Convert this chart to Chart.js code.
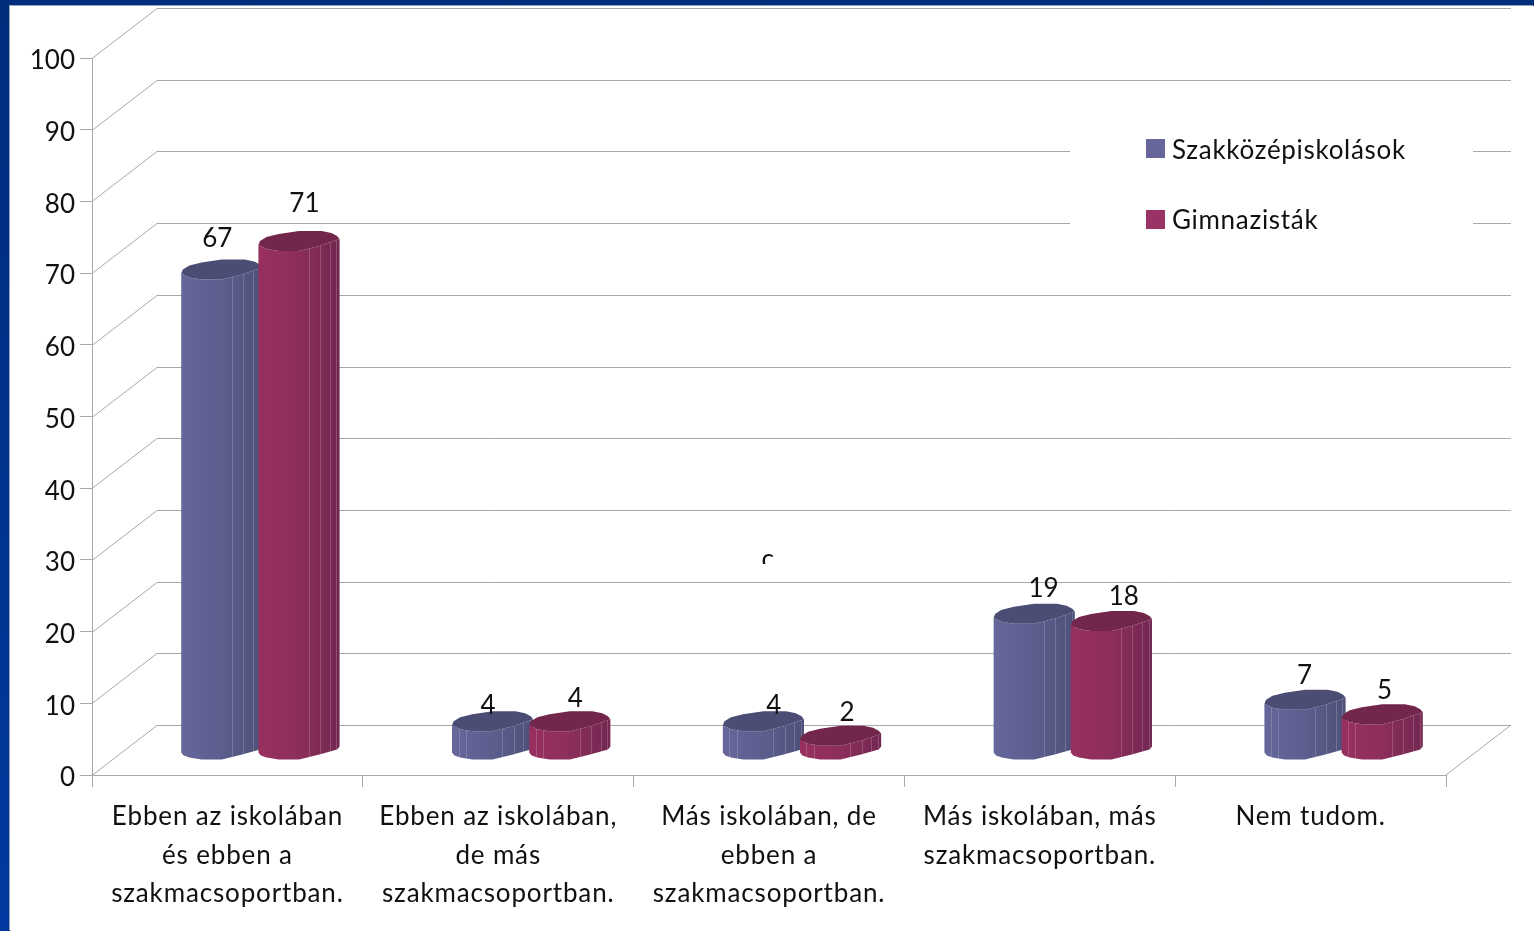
<!DOCTYPE html>
<html>
<head>
<meta charset="utf-8">
<script src="https://cdn.jsdelivr.net/npm/chart.js@4"></script>
<style>
  html, body { margin: 0; height: 100%; overflow: hidden; background: linear-gradient(#002c7c, #003aa0); }
  #panel { position: absolute; left: 10px; top: 6px; right: 0; bottom: 0; background: #fff; box-shadow: -1px -1px 0 #9aa3b5; }
  #wrap { position: absolute; left: 0; top: 0; width: 1534px; height: 931px; }
</style>
</head>
<body>
<div id="panel"></div>
<div id="wrap"><canvas id="theChart"></canvas></div>
<script>
const categories = [
  ['Ebben az iskolában', 'és ebben a', 'szakmacsoportban.'],
  ['Ebben az iskolában,', 'de más', 'szakmacsoportban.'],
  ['Más iskolában, de', 'ebben a', 'szakmacsoportban.'],
  ['Más iskolában, más', 'szakmacsoportban.'],
  ['Nem tudom.']
];
const szakkozep = [67, 4, 4, 19, 7];
const gimnazium = [71, 4, 2, 18, 5];

const textColor = '#111';
const lineColor = '#a8a8a8';
const fontName = 'Lato';
const fontSize = 26;

// fake 3d: how far the back wall sits from the front axes
const wallX = 65, wallY = -50;
// bars stand part way in on the floor
const barX = 31, barY = -21;

// outline of the faceted cylinder: fraction of width, px up or down
const frontEdge = [[0, 0], [.1, 4], [.25, 6], [.5, 6], [.75, 1], [1, -6]];
const bottomEdge = [[0, -1], [.03, 2], [.1, 4], [.25, 6], [.5, 6], [.75, 1], [.97, -4], [1, -7]];
const backEdge = [[.97, -9], [.9, -12], [.78, -14], [.5, -14], [.25, -11], [.1, -8], [.02, -4]];
const facets = [.62, .76, .88, .96];
const shortFacets = [.08, .17];

const looks = [
  { top: '#4c4d74', side: ['#66669a', '#5c5e8e', '#4d5078'] },
  { top: '#72264c', side: ['#98305f', '#8c2e5c', '#722750'] }
];

// data labels do not sit at the same place on every bar in the original
const labelNudge = [
  [[-8, -7], [-8, 8], [7, 8], [6, -1], [-4, 0]],
  [[2, -13], [2, 1], [3, 1], [9, 0], [-1, 0]]
];

function drawCylinder(ctx, bar, look) {
  const w = bar.width + 4;
  const x = bar.x - bar.width / 2 + barX;
  const y = bar.y + barY;
  const bottom = bar.base + barY;

  const grad = ctx.createLinearGradient(x, 0, x + w, 0);
  grad.addColorStop(0, look.side[0]);
  grad.addColorStop(.5, look.side[1]);
  grad.addColorStop(1, look.side[2]);

  ctx.save();
  ctx.beginPath();
  bottomEdge.forEach(p => ctx.lineTo(x + p[0] * w, bottom + p[1]));
  for (let i = frontEdge.length - 1; i >= 0; i--) {
    ctx.lineTo(x + frontEdge[i][0] * w, y + frontEdge[i][1]);
  }
  ctx.closePath();
  ctx.fillStyle = grad;
  ctx.fill();
  ctx.clip();

  const lines = bottom - y < 60 ? facets.concat(shortFacets) : facets;
  ctx.strokeStyle = 'rgba(255,255,255,0.18)';
  ctx.lineWidth = 1;
  lines.forEach(f => {
    const lx = Math.round(x + f * w) + .5;
    ctx.beginPath();
    ctx.moveTo(lx, y - 20);
    ctx.lineTo(lx, bottom + 10);
    ctx.stroke();
  });
  ctx.restore();

  ctx.beginPath();
  frontEdge.forEach(p => ctx.lineTo(x + p[0] * w, y + p[1]));
  backEdge.forEach(p => ctx.lineTo(x + p[0] * w, y + p[1]));
  ctx.closePath();
  ctx.fillStyle = look.top;
  ctx.fill();
}

const wallPlugin = {
  id: 'wall',
  afterLayout(chart) {
    // category labels are spaced wider than the font's default
    const xScale = chart.scales.x;
    const drawLabels = xScale.drawLabels;
    xScale.drawLabels = function (area) {
      chart.ctx.letterSpacing = '0.85px';
      drawLabels.call(xScale, area);
      chart.ctx.letterSpacing = '0px';
    };
  },
  beforeDraw(chart) {
    const ctx = chart.ctx;
    const yScale = chart.scales.y;
    const area = chart.chartArea;
    ctx.save();
    ctx.strokeStyle = lineColor;
    ctx.lineWidth = 1;
    yScale.ticks.forEach((t, i) => {
      const py = Math.round(yScale.getPixelForTick(i)) + .5;
      ctx.beginPath();
      ctx.moveTo(area.left, py);
      ctx.lineTo(area.left + wallX, py + wallY);
      ctx.lineTo(area.right + wallX, py + wallY);
      ctx.stroke();
    });
    // floor, right side
    ctx.beginPath();
    ctx.moveTo(area.right, area.bottom);
    ctx.lineTo(area.right + wallX, area.bottom + wallY);
    ctx.stroke();
    // legend sits on a white box over the wall lines
    ctx.fillStyle = '#fff';
    ctx.fillRect(1070, 130, 403, 110);
    ctx.restore();
  }
};

const barsPlugin = {
  id: 'bars',
  beforeDatasetsDraw(chart) {
    const ctx = chart.ctx;
    const first = chart.getDatasetMeta(0).data;
    const second = chart.getDatasetMeta(1).data;
    first.forEach((bar, i) => {
      drawCylinder(ctx, bar, looks[0]);
      drawCylinder(ctx, second[i], looks[1]);
    });

    ctx.save();
    ctx.font = fontSize + 'px ' + fontName;
    ctx.fillStyle = textColor;
    ctx.textAlign = 'center';
    ctx.textBaseline = 'middle';
    [first, second].forEach((bars, d) => {
      bars.forEach((bar, i) => {
        const nudge = labelNudge[d][i];
        const x = bar.x - bar.width / 2 + barX + 44 + nudge[0];
        const y = bar.y + barY - 28 + nudge[1];
        ctx.fillText(chart.data.datasets[d].data[i], x, y);
      });
    });
    ctx.restore();
    return false;
  },
  afterDraw(chart) {
    const ctx = chart.ctx;
    ctx.save();
    ctx.font = fontSize + 'px ' + fontName;
    ctx.textBaseline = 'middle';
    ctx.letterSpacing = '0.7px';
    chart.data.datasets.forEach((ds, i) => {
      const y = 149 + i * 71;
      ctx.fillStyle = ds.backgroundColor;
      ctx.fillRect(1146, y - 10, 19, 19);
      ctx.fillStyle = textColor;
      ctx.fillText(ds.label, 1172, y + 2 - i);
    });
    // stray clipped letter in the original slide
    ctx.beginPath();
    ctx.rect(750, 545, 40, 19);
    ctx.clip();
    ctx.textAlign = 'center';
    ctx.fillText('c', 768, 560);
    ctx.restore();
  }
};

new Chart(document.getElementById('theChart'), {
  type: 'bar',
  data: {
    labels: categories,
    datasets: [
      { label: 'Szakközépiskolások', data: szakkozep, backgroundColor: '#66669a' },
      { label: 'Gimnazisták', data: gimnazium, backgroundColor: '#993366' }
    ]
  },
  options: {
    responsive: true,
    maintainAspectRatio: false,
    animation: false,
    categoryPercentage: .57,
    barPercentage: 1,
    layout: { padding: { top: 58, right: 88, left: 0, bottom: 0 } },
    plugins: { legend: { display: false }, tooltip: { enabled: false } },
    scales: {
      x: {
        afterFit(s) { s.height = 156; },
        border: { color: lineColor },
        grid: { drawOnChartArea: false, color: lineColor, tickLength: 12 },
        ticks: {
          color: textColor,
          font: { family: fontName, size: fontSize, lineHeight: 1.49 },
          maxRotation: 0,
          autoSkip: false,
          padding: 10
        }
      },
      y: {
        min: 0,
        max: 100,
        afterFit(s) { s.width = 92; },
        border: { color: lineColor },
        grid: { drawOnChartArea: false, color: lineColor, tickLength: 12 },
        ticks: {
          stepSize: 10,
          color: textColor,
          font: { family: fontName, size: fontSize },
          padding: 5,
          labelOffset: 3
        }
      }
    }
  },
  plugins: [wallPlugin, barsPlugin]
});
</script>
</body>
</html>
